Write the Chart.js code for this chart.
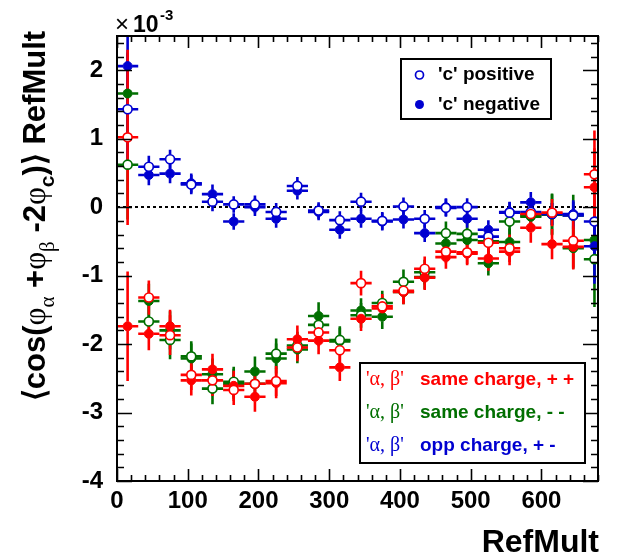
<!DOCTYPE html>
<html>
<head>
<meta charset="utf-8">
<script src="https://cdn.jsdelivr.net/npm/chart.js@4.4.0/dist/chart.umd.min.js"></script>
<style>
html, body { margin: 0; padding: 0; background: #fff; }
#wrap { width: 620px; height: 558px; position: relative; }
</style>
</head>
<body>
<div id="wrap"><canvas id="chart"></canvas></div>
<script>
// RefMult bin centres
const refMult = [15, 45, 75, 105, 135, 165, 195, 225, 255, 285, 315, 345, 375, 405, 435, 465, 495, 525, 555, 585, 615, 645, 675];

// <cos(phi_a + phi_b - 2 phi_c)> * RefMult, in units of 1e-3
// same charge ++
const sameppPos = [1.02, -1.32, -1.87, -2.45, -2.53, -2.67, -2.58, -2.54, -2.05, -1.83, -2.09, -1.11, -1.45, -1.22, -0.90, -0.65, -0.66, -0.52, -0.60, -0.10, -0.08, -0.49, 0.48];
const sameppPosErr = [1.28, 0.25, 0.29, 0.22, 0.23, 0.22, 0.22, 0.22, 0.20, 0.20, 0.20, 0.18, 0.18, 0.18, 0.18, 0.17, 0.17, 0.18, 0.20, 0.22, 0.20, 0.42, 0.64];
const sameppNeg = [-1.74, -1.85, -1.74, -2.53, -2.37, -2.61, -2.77, -2.57, -1.93, -1.95, -2.34, -1.63, -1.48, -1.24, -1.03, -0.73, -0.68, -0.75, -0.65, -0.30, -0.54, -0.58, 0.29];
const sameppNegErr = [0.80, 0.24, 0.24, 0.22, 0.23, 0.22, 0.22, 0.22, 0.20, 0.20, 0.20, 0.18, 0.18, 0.18, 0.18, 0.17, 0.17, 0.18, 0.20, 0.22, 0.22, 0.30, 0.57];
// same charge --
const samemmPos = [0.62, -1.67, -1.94, -2.18, -2.65, -2.55, -2.58, -2.14, -2.02, -1.72, -1.94, -1.58, -1.40, -1.09, -0.95, -0.38, -0.39, -0.50, -0.21, -0.12, -0.10, -0.12, -0.76];
const samemmPosErr = [0.80, 0.25, 0.28, 0.22, 0.23, 0.22, 0.22, 0.22, 0.20, 0.20, 0.20, 0.18, 0.18, 0.18, 0.18, 0.17, 0.17, 0.18, 0.20, 0.22, 0.30, 0.30, 0.70];
const samemmNeg = [1.66, -1.37, -1.80, -2.21, -2.44, -2.58, -2.40, -2.21, -2.08, -1.59, -1.96, -1.51, -1.60, -1.24, -1.02, -0.53, -0.48, -0.82, -0.51, -0.14, -0.11, -0.60, -0.48];
const samemmNegErr = [0.60, 0.25, 0.28, 0.22, 0.23, 0.22, 0.22, 0.22, 0.20, 0.20, 0.20, 0.18, 0.18, 0.18, 0.18, 0.17, 0.17, 0.18, 0.20, 0.22, 0.30, 0.30, 0.60];
// opposite charge +-
const oppPos = [1.43, 0.59, 0.70, 0.33, 0.08, 0.04, 0.04, -0.07, 0.31, -0.05, -0.19, 0.08, -0.20, 0.01, -0.17, -0.01, 0.00, -0.43, -0.08, -0.07, -0.10, -0.12, -0.21];
const oppPosErr = [0.80, 0.16, 0.14, 0.14, 0.14, 0.12, 0.13, 0.13, 0.13, 0.12, 0.13, 0.13, 0.13, 0.13, 0.13, 0.13, 0.13, 0.14, 0.15, 0.15, 0.16, 0.20, 0.50];
const oppNeg = [2.06, 0.47, 0.49, 0.35, 0.19, -0.21, 0.00, -0.17, 0.24, -0.07, -0.33, -0.17, -0.21, -0.18, -0.38, 0.00, -0.17, -0.33, -0.07, 0.07, -0.10, -0.10, -0.57];
const oppNegErr = [0.60, 0.15, 0.14, 0.14, 0.14, 0.12, 0.13, 0.13, 0.13, 0.12, 0.13, 0.13, 0.13, 0.13, 0.13, 0.13, 0.13, 0.14, 0.15, 0.15, 0.16, 0.20, 0.55];

const binHalf = 15;
const xTicks = [0, 100, 200, 300, 400, 500, 600];
const yTicks = [2, 1, 0, -1, -2, -3, -4];

const RED = '#ff0000';
const GREEN = '#006f00';
const BLUE = '#0000d0';
const SANS = '"Liberation Sans", Arial, sans-serif';
const SERIF = '"Liberation Serif", "Times New Roman", serif';

function pts(vals) {
    return vals.map((v, i) => ({ x: refMult[i], y: v }));
}

function series(label, vals, errs, color, open) {
    return {
        label: label,
        data: pts(vals),
        errors: errs,
        borderColor: color,
        backgroundColor: open ? '#ffffff' : color,
        pointBackgroundColor: open ? '#ffffff' : color,
        pointBorderColor: color,
        pointBorderWidth: open ? 1.7 : 1,
        pointRadius: 4.5,
        pointHoverRadius: 4.5,
        showLine: false
    };
}

// index 0 is drawn on top
const datasets = [
    series('++ c positive', sameppPos, sameppPosErr, RED, true),
    series('++ c negative', sameppNeg, sameppNegErr, RED, false),
    series('+- c positive', oppPos, oppPosErr, BLUE, true),
    series('+- c negative', oppNeg, oppNegErr, BLUE, false),
    series('-- c positive', samemmPos, samemmPosErr, GREEN, true),
    series('-- c negative', samemmNeg, samemmNegErr, GREEN, false)
];

const rootStyle = {
    id: 'rootStyle',
    beforeDatasetsDraw(chart) {
        const ctx = chart.ctx;
        const a = chart.chartArea;
        const x = chart.scales.x, y = chart.scales.y;

        // dotted zero line
        ctx.save();
        ctx.strokeStyle = '#000';
        ctx.lineWidth = 2;
        ctx.setLineDash([3, 3]);
        const y0 = Math.round(y.getPixelForValue(0));
        ctx.beginPath();
        ctx.moveTo(a.left, y0);
        ctx.lineTo(a.right, y0);
        ctx.stroke();
        ctx.restore();

        // error bars, bottom dataset first
        ctx.save();
        ctx.beginPath();
        ctx.rect(a.left, a.top, a.right - a.left, a.bottom - a.top);
        ctx.clip();
        ctx.lineWidth = 2.6;
        for (let i = chart.data.datasets.length - 1; i >= 0; i--) {
            const ds = chart.data.datasets[i];
            ctx.strokeStyle = ds.borderColor;
            const r = 4.5;
            ds.data.forEach((p, j) => {
                const px = x.getPixelForValue(p.x);
                const py = y.getPixelForValue(p.y);
                const xl = x.getPixelForValue(p.x - binHalf);
                const xr = x.getPixelForValue(p.x + binHalf);
                const yt = y.getPixelForValue(p.y + ds.errors[j]);
                const yb = y.getPixelForValue(p.y - ds.errors[j]);
                ctx.beginPath();
                ctx.moveTo(xl, py); ctx.lineTo(px - r, py);
                ctx.moveTo(px + r, py); ctx.lineTo(xr, py);
                if (yt < py - r) { ctx.moveTo(px, yt); ctx.lineTo(px, py - r); }
                if (yb > py + r) { ctx.moveTo(px, py + r); ctx.lineTo(px, yb); }
                ctx.stroke();
            });
        }
        ctx.restore();
    },
    afterDatasetsDraw(chart) {
        const ctx = chart.ctx;
        const a = chart.chartArea;
        const x = chart.scales.x, y = chart.scales.y;

        ctx.save();
        ctx.strokeStyle = '#000';
        ctx.fillStyle = '#000';

        // ticks on all four sides, pointing inwards
        ctx.lineWidth = 1.6;
        ctx.beginPath();
        for (let v = 0; v <= x.max + 0.01; v += 20) {
            const px = Math.round(x.getPixelForValue(v)) + 0.5;
            const len = (v % 100 === 0) ? 12 : 6;
            ctx.moveTo(px, a.bottom); ctx.lineTo(px, a.bottom - len);
            ctx.moveTo(px, a.top); ctx.lineTo(px, a.top + len);
        }
        for (let k = -20; k <= 12; k++) {
            const v = k * 0.2;
            const py = Math.round(y.getPixelForValue(v)) + 0.5;
            const len = (k % 5 === 0) ? 15 : 7;
            ctx.moveTo(a.left, py); ctx.lineTo(a.left + len, py);
            ctx.moveTo(a.right, py); ctx.lineTo(a.right - len, py);
        }
        ctx.stroke();

        // frame
        ctx.lineWidth = 2;
        ctx.strokeRect(a.left, a.top, a.right - a.left, a.bottom - a.top);

        // tick labels
        ctx.font = 'bold 24px ' + SANS;
        ctx.textAlign = 'center';
        ctx.textBaseline = 'alphabetic';
        xTicks.forEach(v => ctx.fillText(String(v), x.getPixelForValue(v), 508));
        ctx.textAlign = 'right';
        ctx.textBaseline = 'middle';
        yTicks.forEach(v => ctx.fillText(String(v), 103, y.getPixelForValue(v)));

        // exponent
        ctx.textAlign = 'left';
        ctx.textBaseline = 'alphabetic';
        ctx.font = '24px ' + SANS;
        ctx.fillText('\u00d7', 115, 32);
        ctx.font = 'bold 23px ' + SANS;
        ctx.fillText('10', 133, 32);
        ctx.font = 'bold 15px ' + SANS;
        ctx.fillText('-3', 160, 20);

        // x title
        ctx.font = 'bold 32px ' + SANS;
        ctx.textAlign = 'right';
        ctx.fillText('RefMult', 599, 552);

        // y title, rotated, with subscripts
        const parts = [
            { t: '\u27e8cos(', f: 'bold 31px ' + SANS, d: 0 },
            { t: '\u03c6', f: '31px ' + SERIF, d: 0 },
            { t: '\u03b1', f: '21px ' + SERIF, d: 9 },
            { t: ' +', f: 'bold 31px ' + SANS, d: 0 },
            { t: '\u03c6', f: '31px ' + SERIF, d: 0 },
            { t: '\u03b2', f: '21px ' + SERIF, d: 9 },
            { t: ' -2', f: 'bold 31px ' + SANS, d: 0 },
            { t: '\u03c6', f: '31px ' + SERIF, d: 0 },
            { t: 'c', f: 'bold 21px ' + SANS, d: 9 },
            { t: ')\u27e9 RefMult', f: 'bold 31px ' + SANS, d: 0 }
        ];
        let total = 0;
        parts.forEach(p => { ctx.font = p.f; p.w = ctx.measureText(p.t).width; total += p.w; });
        ctx.translate(45, 216);
        ctx.rotate(-Math.PI / 2);
        ctx.textAlign = 'left';
        let cx = -total / 2;
        parts.forEach(p => {
            ctx.font = p.f;
            ctx.fillText(p.t, cx, p.d);
            cx += p.w;
        });
        ctx.restore();

        // legend: sign of c
        ctx.save();
        ctx.fillStyle = '#fff';
        ctx.fillRect(401, 59, 150, 60);
        ctx.strokeStyle = '#000';
        ctx.lineWidth = 2;
        ctx.strokeRect(401, 59, 150, 60);
        ctx.lineWidth = 1.7;
        ctx.strokeStyle = BLUE;
        ctx.beginPath();
        ctx.arc(419.5, 75, 4, 0, Math.PI * 2);
        ctx.stroke();
        ctx.fillStyle = BLUE;
        ctx.beginPath();
        ctx.arc(419.5, 104.5, 4.5, 0, Math.PI * 2);
        ctx.fill();
        ctx.fillStyle = '#000';
        ctx.font = 'bold 19px ' + SANS;
        ctx.textBaseline = 'middle';
        ctx.textAlign = 'left';
        ctx.fillText("'c' positive", 438, 75);
        ctx.fillText("'c' negative", 438, 104.5);
        ctx.restore();

        // legend: charge combinations
        ctx.save();
        ctx.fillStyle = '#fff';
        ctx.fillRect(360, 363, 225, 100);
        ctx.strokeStyle = '#000';
        ctx.lineWidth = 2;
        ctx.strokeRect(360, 363, 225, 100);
        ctx.textBaseline = 'middle';
        ctx.textAlign = 'left';
        const rows = [
            { c: RED, t: 'same charge, + +', y: 380 },
            { c: GREEN, t: 'same charge, - -', y: 413 },
            { c: BLUE, t: 'opp charge, + -', y: 446 }
        ];
        rows.forEach(r => {
            ctx.fillStyle = r.c;
            ctx.font = '20px ' + SERIF;
            ctx.fillText("'\u03b1, \u03b2'", 366, r.y);
            ctx.font = 'bold 19px ' + SANS;
            ctx.fillText(r.t, 420, r.y);
        });
        ctx.restore();
    }
};

new Chart(document.getElementById('chart'), {
    type: 'scatter',
    data: { datasets: datasets },
    options: {
        responsive: true,
        maintainAspectRatio: false,
        animation: false,
        events: [],
        layout: { padding: { left: 117, right: 22, top: 36, bottom: 77 } },
        plugins: {
            legend: { display: false },
            tooltip: { enabled: false }
        },
        scales: {
            x: { type: 'linear', min: 0, max: 680, display: false },
            y: { type: 'linear', min: -4, max: 2.5, display: false }
        }
    },
    plugins: [rootStyle]
});
</script>
</body>
</html>
